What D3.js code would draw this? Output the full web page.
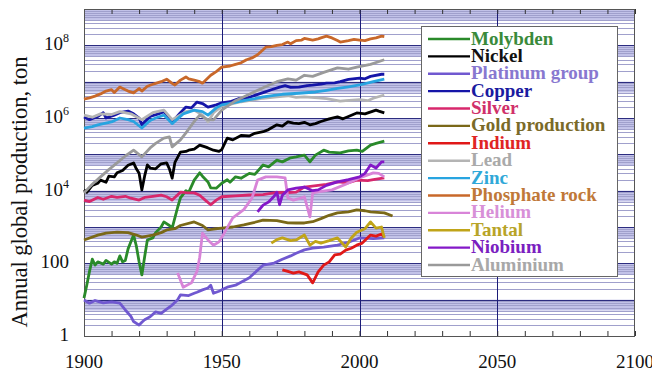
<!DOCTYPE html>
<html>
<head>
<meta charset="utf-8">
<script src="https://cdn.jsdelivr.net/npm/d3@7/dist/d3.min.js"></script>
<style>
  html, body { margin: 0; padding: 0; background: #fff; }
  svg { display: block; }
</style>
</head>
<body>
<svg id="chart" width="652" height="373"></svg>
<script>
// Annual global production (tonnes), year / value pairs
const molybden = [[1900,11],[1901,25],[1902,60],[1903,130],[1904,90],[1905,110],[1907,95],[1908,120],[1910,95],[1911,110],[1912,100],[1913,160],[1914,110],[1915,120],[1916,250],[1918,600],[1919,300],[1920,110],[1921,48],[1922,150],[1923,440],[1925,500],[1926,700],[1928,1000],[1929,1380],[1931,1100],[1932,930],[1934,3500],[1935,6300],[1937,10000],[1938,9000],[1940,19500],[1942,31000],[1943,25000],[1945,17400],[1946,12000],[1948,11700],[1950,16000],[1952,20000],[1953,17000],[1955,24000],[1957,22000],[1960,30000],[1962,28000],[1965,51000],[1967,45000],[1970,69000],[1972,62000],[1975,80000],[1977,85000],[1980,95000],[1982,62000],[1984,95000],[1987,130000],[1989,115000],[1993,110000],[1996,125000],[1999,130000],[2001,120000],[2004,180000],[2006,200000],[2009,230000]];
const nickel = [[1900,10500],[1901,9000],[1903,14000],[1905,16000],[1906,19500],[1908,17000],[1909,25000],[1911,24000],[1912,31000],[1914,36000],[1916,50000],[1918,58000],[1919,40000],[1920,30000],[1921,10500],[1922,25000],[1923,51000],[1924,42000],[1926,40000],[1928,55000],[1930,58000],[1931,40000],[1932,22000],[1933,60000],[1935,115000],[1937,120000],[1938,130000],[1940,140000],[1942,180000],[1944,160000],[1945,150000],[1947,130000],[1949,120000],[1950,135000],[1952,280000],[1954,250000],[1957,330000],[1960,320000],[1962,380000],[1965,420000],[1967,480000],[1970,650000],[1972,600000],[1974,780000],[1976,720000],[1978,700000],[1980,760000],[1982,650000],[1984,700000],[1986,800000],[1989,950000],[1992,1070000],[1994,950000],[1996,1100000],[1999,1380000],[2002,1300000],[2006,1650000],[2007,1550000],[2009,1380000]];
const platinum = [[1900,9.8],[1902,8],[1904,9.5],[1905,9],[1907,8.2],[1910,8.7],[1913,8],[1915,5.2],[1917,3.5],[1918,2.5],[1920,2.0],[1921,2.4],[1922,2.8],[1924,3.4],[1926,4.6],[1928,4.2],[1930,5.5],[1932,7.1],[1934,10],[1935,13.5],[1938,13],[1940,15],[1941,16],[1943,18.6],[1945,21],[1946,25],[1947,15],[1949,17],[1950,18.6],[1952,22],[1955,25],[1957,30],[1960,40],[1962,55],[1965,89],[1969,102],[1972,130],[1975,160],[1977,190],[1980,234],[1983,263],[1987,280],[1992,316],[1996,380],[2000,500],[2005,480],[2009,500]];
const copper = [[1900,1070000],[1902,900000],[1905,1100000],[1907,1400000],[1908,1000000],[1911,1200000],[1913,1400000],[1916,1550000],[1918,1300000],[1920,1000000],[1921,650000],[1924,1100000],[1927,1300000],[1929,1500000],[1931,1000000],[1932,780000],[1935,1400000],[1937,2000000],[1939,1900000],[1941,2750000],[1943,2500000],[1945,2000000],[1948,2300000],[1950,2600000],[1953,2800000],[1956,3400000],[1959,3500000],[1962,4200000],[1965,5000000],[1968,6000000],[1971,7100000],[1973,7800000],[1975,7000000],[1978,7100000],[1981,7800000],[1983,8000000],[1986,8500000],[1988,9100000],[1991,9300000],[1993,10000000],[1996,11500000],[2000,12600000],[2002,12000000],[2004,14000000],[2008,16000000],[2009,16000000]];
const silver = [[1900,5500],[1902,5000],[1905,6500],[1907,5800],[1910,7000],[1912,6500],[1915,7000],[1917,6200],[1920,5500],[1922,6500],[1925,7000],[1928,7500],[1930,6800],[1932,5500],[1935,9100],[1937,8800],[1940,8700],[1942,7500],[1944,5500],[1946,4100],[1948,5500],[1950,6800],[1955,7200],[1960,7600],[1965,7800],[1970,9000],[1974,8800],[1977,9100],[1980,12600],[1985,14000],[1988,15000],[1992,17400],[1996,16500],[1999,19500],[2003,19000],[2005,20000],[2009,22400]];
const gold = [[1900,440],[1905,600],[1908,680],[1912,720],[1916,700],[1919,600],[1921,525],[1925,600],[1928,700],[1930,830],[1933,900],[1935,1100],[1940,1380],[1943,1100],[1945,830],[1947,880],[1950,930],[1954,1000],[1958,1150],[1962,1350],[1965,1550],[1970,1500],[1974,1300],[1977,1290],[1980,1290],[1983,1400],[1986,1700],[1989,2100],[1992,2450],[1996,2600],[1999,2950],[2002,2800],[2004,2600],[2009,2450],[2012,2000]];
const indium = [[1972,66],[1974,60],[1976,54],[1978,58],[1981,48],[1983,29],[1985,58],[1987,89],[1989,110],[1991,170],[1993,180],[1995,230],[1997,260],[1999,316],[2001,360],[2004,600],[2006,560],[2008,640],[2009,525]];
const lead = [[1900,1200000],[1903,1050000],[1906,1300000],[1910,1250000],[1913,1500000],[1917,1300000],[1921,900000],[1925,1400000],[1929,1650000],[1932,900000],[1937,1500000],[1940,1650000],[1943,1200000],[1945,780000],[1947,1400000],[1950,2100000],[1954,2500000],[1957,2800000],[1961,3100000],[1965,3500000],[1970,3800000],[1974,4100000],[1977,3700000],[1980,3800000],[1985,3600000],[1988,3400000],[1990,3200000],[1993,2900000],[1995,3000000],[2000,3200000],[2003,3000000],[2005,3500000],[2009,4300000]];
const zinc = [[1900,530000],[1903,580000],[1905,650000],[1910,780000],[1913,1000000],[1916,900000],[1918,800000],[1921,530000],[1924,850000],[1926,1000000],[1929,1200000],[1932,700000],[1936,1300000],[1940,1650000],[1943,1500000],[1945,1200000],[1948,1900000],[1950,2300000],[1954,2600000],[1958,3000000],[1962,3400000],[1965,3800000],[1969,4200000],[1972,4500000],[1978,4800000],[1984,5200000],[1988,5800000],[1992,6500000],[1996,7200000],[2000,8100000],[2005,10000000],[2009,11700000]];
const phosphate = [[1900,3300000],[1902,3600000],[1904,4000000],[1906,4600000],[1908,5500000],[1910,6000000],[1911,5000000],[1913,7100000],[1915,6000000],[1916,5500000],[1918,4900000],[1920,6500000],[1921,5500000],[1923,7500000],[1925,8500000],[1926,9000000],[1928,10000000],[1930,11700000],[1932,9000000],[1933,8100000],[1935,11000000],[1937,13500000],[1938,12000000],[1940,11000000],[1942,10000000],[1943,9100000],[1946,15000000],[1948,19000000],[1950,25000000],[1953,27000000],[1955,30000000],[1957,33000000],[1959,40000000],[1961,45000000],[1963,55000000],[1966,89000000],[1968,92000000],[1970,100000000],[1972,105000000],[1974,123000000],[1975,110000000],[1977,135000000],[1979,140000000],[1980,155000000],[1983,140000000],[1985,150000000],[1986,160000000],[1988,180000000],[1990,160000000],[1992,135000000],[1993,123000000],[1996,135000000],[1998,145000000],[2000,140000000],[2002,135000000],[2004,150000000],[2006,160000000],[2008,180000000],[2009,175000000]];
const helium = [[1934,54],[1936,22],[1939,29],[1941,60],[1942,148],[1943,680],[1945,440],[1947,316],[1949,390],[1951,700],[1954,1780],[1958,3000],[1961,6300],[1963,19500],[1966,24000],[1970,24000],[1973,22400],[1974,6300],[1976,5500],[1978,6000],[1980,6800],[1982,1900],[1983,8700],[1986,9500],[1990,10500],[1995,15000],[2000,22400],[2005,31000],[2007,30000],[2009,24000]];
const tantal = [[1968,360],[1970,450],[1972,500],[1975,420],[1977,440],[1980,600],[1982,316],[1984,400],[1986,360],[1989,420],[1992,500],[1995,280],[1997,500],[1999,720],[2002,900],[2004,1380],[2006,930],[2008,1000],[2009,500]];
const niobium = [[1963,2600],[1965,4000],[1967,4900],[1969,7000],[1970,9100],[1971,4100],[1972,7500],[1974,10500],[1977,11700],[1980,12600],[1983,10000],[1985,10500],[1988,14000],[1992,17400],[1996,20000],[2000,24000],[2002,30000],[2004,51000],[2006,42000],[2008,62000],[2009,62000]];
const aluminium = [[1900,8700],[1903,15000],[1906,24000],[1909,38000],[1912,58000],[1915,90000],[1918,130000],[1921,85000],[1924,150000],[1926,200000],[1929,280000],[1931,300000],[1932,160000],[1935,250000],[1937,390000],[1940,800000],[1942,1200000],[1945,900000],[1947,890000],[1950,1650000],[1955,3000000],[1960,4500000],[1965,6800000],[1970,10000000],[1974,12000000],[1977,11000000],[1980,15000000],[1983,14000000],[1987,18000000],[1992,24000000],[1996,22000000],[1999,25000000],[2004,30000000],[2009,40000000]];

const seriesNames = ["Molybden","Nickel","Platinum group","Copper","Silver","Gold production","Indium","Lead","Zinc","Phosphate rock","Helium","Tantal","Niobium","Aluminium"];
const seriesValues = [molybden, nickel, platinum, copper, silver, gold, indium, lead, zinc, phosphate, helium, tantal, niobium, aluminium];
const seriesColors = ["#2a8a2a","#000000","#7058d0","#1515a8","#d8286c","#7a6818","#e01818","#b4b4b4","#28a4e0","#c8682a","#d884d8","#c0a418","#8418c8","#9a9a9a"];
const legendTextColors = ["#3a8a3a","#111111","#8878d0","#1a1aa0","#d0306a","#7a6a28","#e02424","#aaaaaa","#30a8d8","#c07838","#d890d8","#b8a428","#7a20c0","#a8a8a8"];

const yearTicks = [1900, 1950, 2000, 2050, 2100];
const yTicks = [{v:1, base:"1", exp:""},{v:100, base:"100", exp:""},{v:1e4, base:"10", exp:"4"},{v:1e6, base:"10", exp:"6"},{v:1e8, base:"10", exp:"8"}];

const SERIF = "'Liberation Serif'";
const svg = d3.select("#chart");
const plot = {left: 84, right: 635, top: 9, bottom: 336};

const x = d3.scaleLinear().domain([1900, 2100]).range([plot.left, plot.right]);
const y = d3.scaleLog().domain([1, 1e9]).range([plot.bottom, plot.top]);

// background grid: shaded band in the upper part of every decade
const g = svg.append("g");
const decades = d3.range(0, 9);
g.selectAll("rect.band").data(decades).join("rect")
  .attr("class", "band")
  .attr("x", plot.left).attr("width", plot.right - plot.left)
  .attr("y", d => y(Math.pow(10, d + 1)))
  .attr("height", d => y(5 * Math.pow(10, d)) - y(Math.pow(10, d + 1)))
  .attr("fill", "#c2c2e8");

const minorVals = [];
decades.forEach(d => { for (let k = 2; k <= 9; k++) minorVals.push(k * Math.pow(10, d)); });
g.selectAll("line.minor").data(minorVals).join("line")
  .attr("x1", plot.left).attr("x2", plot.right)
  .attr("y1", d => Math.round(y(d)) + 0.5).attr("y2", d => Math.round(y(d)) + 0.5)
  .attr("stroke", "#a0a0cc").attr("stroke-width", 1);

const majorVals = d3.range(0, 10).map(d => Math.pow(10, d));
g.selectAll("line.major").data(majorVals).join("line")
  .attr("x1", plot.left).attr("x2", plot.right)
  .attr("y1", d => Math.round(y(d)) + 0.5).attr("y2", d => Math.round(y(d)) + 0.5)
  .attr("stroke", "#2c2c80").attr("stroke-width", 1);

g.selectAll("line.vgrid").data([1950, 2000, 2050]).join("line")
  .attr("x1", d => Math.round(x(d)) + 0.5).attr("x2", d => Math.round(x(d)) + 0.5)
  .attr("y1", plot.top).attr("y2", plot.bottom)
  .attr("stroke", "#1c1c78").attr("stroke-width", 1);

// decade tick marks on the bottom and top edges
const decadeTicks = d3.range(1900, 2101, 10);
svg.append("g").attr("transform", `translate(0,${plot.bottom})`)
  .call(d3.axisBottom(x).tickValues(decadeTicks).tickSizeInner(-5).tickSizeOuter(0).tickFormat(""))
  .call(a => a.select(".domain").remove())
  .call(a => a.selectAll("line").attr("stroke", "#333"));
svg.append("g").attr("transform", `translate(0,${plot.top})`)
  .call(d3.axisTop(x).tickValues(decadeTicks).tickSizeInner(-5).tickSizeOuter(0).tickFormat(""))
  .call(a => a.select(".domain").remove())
  .call(a => a.selectAll("line").attr("stroke", "#333"));

// frame
svg.append("rect")
  .attr("x", plot.left + 0.5).attr("y", plot.top + 0.5)
  .attr("width", plot.right - plot.left - 1).attr("height", plot.bottom - plot.top)
  .attr("fill", "none").attr("stroke", "#555").attr("stroke-width", 1);

// series
const line = d3.line().x(d => x(d[0])).y(d => y(d[1]));
svg.append("g").selectAll("path").data(seriesValues).join("path")
  .attr("d", line)
  .attr("fill", "none")
  .attr("stroke", (d, i) => seriesColors[i])
  .attr("stroke-width", 2.8)
  .attr("stroke-linejoin", "round");

// x labels
svg.append("g").selectAll("text").data(yearTicks).join("text")
  .attr("x", d => x(d)).attr("y", 368)
  .attr("text-anchor", "middle")
  .attr("font-family", SERIF)
  .attr("font-size", 19).attr("fill", "#111")
  .text(d => d);

// y labels
const yl = svg.append("g").selectAll("text").data(yTicks).join("text")
  .attr("x", 69)
  .attr("y", d => y(d.v) + 5)
  .attr("text-anchor", "end")
  .attr("font-family", SERIF)
  .attr("font-size", 19).attr("fill", "#111");
yl.append("tspan").attr("font-family", SERIF).text(d => d.base);
yl.filter(d => d.exp).append("tspan")
  .attr("font-family", SERIF)
  .attr("font-size", 12).attr("dy", -8).text(d => d.exp);

svg.append("text")
  .attr("transform", `translate(27,192) rotate(-90)`)
  .attr("text-anchor", "middle")
  .attr("font-family", SERIF)
  .attr("font-size", 22.5).attr("fill", "#111")
  .text("Annual global production, ton");

// legend
const lg = svg.append("g");
lg.append("rect")
  .attr("x", 421.5).attr("y", 26.5).attr("width", 196).attr("height", 250)
  .attr("fill", "#fff").attr("stroke", "#666").attr("stroke-width", 1);
const rowY = d3.scalePoint().domain(seriesNames).range([39, 265]);
const rows = lg.selectAll("g.row").data(seriesNames).join("g")
  .attr("transform", d => `translate(0,${rowY(d)})`);
rows.append("line").attr("x1", 428).attr("x2", 470).attr("y1", 0).attr("y2", 0)
  .attr("stroke", (d, i) => seriesColors[i]).attr("stroke-width", 2.4);
rows.append("text").attr("x", 471).attr("y", 5.5)
  .attr("font-family", SERIF)
  .attr("font-size", 19).attr("font-weight", "bold")
  .attr("fill", (d, i) => legendTextColors[i])
  .text(d => d);
</script>
</body>
</html>
